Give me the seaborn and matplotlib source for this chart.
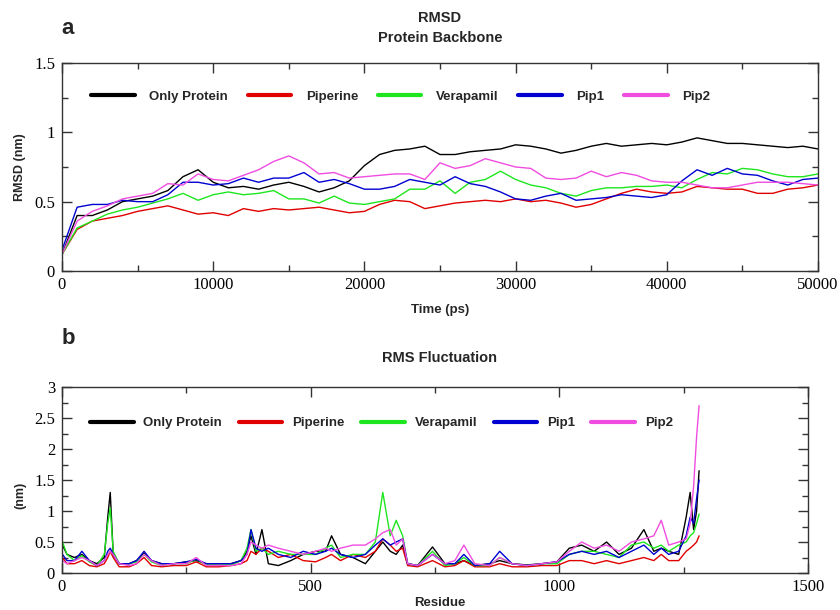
import numpy as np
import pandas as pd
import matplotlib
matplotlib.use("Agg")
import matplotlib.pyplot as plt
from matplotlib.lines import Line2D
from matplotlib.ticker import MultipleLocator
import seaborn as sns

# ---------------- data ----------------
series_names = ["Only Protein", "Piperine", "Verapamil", "Pip1", "Pip2"]
series_colors = ["#000000", "#e00000", "#1ee61e", "#0000d0", "#f04ce0"]

# RMSD (nm) sampled every 1000 ps
time_ps = [i * 1000 for i in range(51)]
rmsd_only_protein = [0.12, 0.40, 0.40, 0.44, 0.50, 0.52, 0.54, 0.58, 0.68, 0.73,
                     0.64, 0.60, 0.61, 0.59, 0.62, 0.64, 0.61, 0.57, 0.60, 0.65,
                     0.76, 0.84, 0.87, 0.88, 0.90, 0.84, 0.84, 0.86, 0.87, 0.88,
                     0.91, 0.90, 0.88, 0.85, 0.87, 0.90, 0.92, 0.90, 0.91, 0.92,
                     0.91, 0.93, 0.96, 0.94, 0.92, 0.92, 0.91, 0.90, 0.89, 0.90, 0.88]
rmsd_piperine = [0.12, 0.30, 0.36, 0.38, 0.40, 0.43, 0.45, 0.47, 0.44, 0.41,
                 0.42, 0.40, 0.45, 0.43, 0.45, 0.44, 0.45, 0.46, 0.44, 0.42,
                 0.43, 0.48, 0.51, 0.50, 0.45, 0.47, 0.49, 0.50, 0.51, 0.50,
                 0.52, 0.50, 0.51, 0.49, 0.46, 0.48, 0.52, 0.56, 0.59, 0.57,
                 0.56, 0.57, 0.61, 0.60, 0.59, 0.59, 0.56, 0.56, 0.59, 0.60, 0.62]
rmsd_verapamil = [0.12, 0.31, 0.36, 0.41, 0.44, 0.46, 0.49, 0.52, 0.56, 0.51,
                  0.55, 0.57, 0.55, 0.56, 0.58, 0.52, 0.52, 0.49, 0.54, 0.49,
                  0.48, 0.50, 0.52, 0.59, 0.59, 0.65, 0.56, 0.64, 0.66, 0.72,
                  0.66, 0.62, 0.60, 0.56, 0.54, 0.58, 0.60, 0.60, 0.61, 0.61,
                  0.62, 0.60, 0.66, 0.71, 0.70, 0.74, 0.73, 0.70, 0.68, 0.68, 0.70]
rmsd_pip1 = [0.15, 0.46, 0.48, 0.48, 0.51, 0.50, 0.50, 0.55, 0.64, 0.64,
             0.62, 0.63, 0.67, 0.64, 0.67, 0.67, 0.71, 0.64, 0.66, 0.63,
             0.59, 0.59, 0.61, 0.66, 0.64, 0.62, 0.68, 0.63, 0.61, 0.57,
             0.52, 0.51, 0.54, 0.56, 0.51, 0.52, 0.53, 0.55, 0.54, 0.53,
             0.55, 0.65, 0.73, 0.69, 0.74, 0.70, 0.69, 0.65, 0.62, 0.66, 0.67]
rmsd_pip2 = [0.12, 0.36, 0.43, 0.47, 0.52, 0.54, 0.56, 0.63, 0.62, 0.70,
             0.66, 0.65, 0.69, 0.73, 0.79, 0.83, 0.78, 0.70, 0.71, 0.67,
             0.68, 0.69, 0.70, 0.70, 0.66, 0.78, 0.74, 0.76, 0.81, 0.78,
             0.75, 0.74, 0.67, 0.66, 0.67, 0.72, 0.68, 0.71, 0.69, 0.65,
             0.64, 0.64, 0.62, 0.60, 0.60, 0.62, 0.64, 0.64, 0.64, 0.63, 0.62]

# RMSF (nm) per residue
residue = [1, 10, 25, 40, 55, 70, 85, 92, 97, 103,
           115, 135, 150, 165, 180, 200, 225, 250, 270, 290,
           315, 340, 360, 372, 380, 390, 402, 415, 435, 460,
           485, 510, 530, 542, 560, 585, 610, 630, 645, 660,
           672, 685, 695, 715, 745, 770, 790, 808, 830, 860,
           880, 905, 935, 965, 995, 1020, 1045, 1070, 1095, 1120,
           1145, 1170, 1190, 1205, 1220, 1240, 1255, 1263, 1270, 1276, 1281]
rmsf_only_protein = [0.45, 0.30, 0.25, 0.30, 0.20, 0.15, 0.25, 0.90, 1.30, 0.30,
                     0.15, 0.15, 0.20, 0.32, 0.20, 0.15, 0.15, 0.18, 0.20, 0.15,
                     0.15, 0.15, 0.20, 0.35, 0.60, 0.30, 0.70, 0.15, 0.12, 0.20,
                     0.30, 0.35, 0.35, 0.60, 0.30, 0.25, 0.15, 0.35, 0.50, 0.35,
                     0.30, 0.45, 0.15, 0.12, 0.42, 0.15, 0.15, 0.20, 0.12, 0.15,
                     0.20, 0.15, 0.13, 0.15, 0.18, 0.40, 0.45, 0.35, 0.50, 0.30,
                     0.40, 0.70, 0.35, 0.40, 0.35, 0.30, 0.90, 1.30, 0.70, 1.00, 1.65]
rmsf_piperine = [0.25, 0.15, 0.15, 0.20, 0.12, 0.10, 0.15, 0.25, 0.35, 0.25,
                 0.10, 0.10, 0.15, 0.25, 0.12, 0.10, 0.12, 0.12, 0.18, 0.10,
                 0.10, 0.12, 0.15, 0.20, 0.35, 0.30, 0.40, 0.35, 0.25, 0.30,
                 0.20, 0.18, 0.25, 0.30, 0.20, 0.30, 0.25, 0.35, 0.55, 0.45,
                 0.35, 0.40, 0.12, 0.10, 0.20, 0.10, 0.12, 0.20, 0.10, 0.10,
                 0.15, 0.10, 0.10, 0.12, 0.12, 0.20, 0.20, 0.15, 0.20, 0.15,
                 0.20, 0.25, 0.20, 0.30, 0.20, 0.20, 0.35, 0.40, 0.45, 0.50, 0.60]
rmsf_verapamil = [0.50, 0.30, 0.20, 0.28, 0.18, 0.12, 0.30, 0.80, 1.05, 0.35,
                  0.15, 0.15, 0.18, 0.30, 0.18, 0.12, 0.15, 0.15, 0.22, 0.13,
                  0.15, 0.13, 0.20, 0.40, 0.70, 0.35, 0.40, 0.30, 0.35, 0.30,
                  0.30, 0.30, 0.40, 0.45, 0.25, 0.30, 0.30, 0.50, 1.30, 0.60,
                  0.85, 0.60, 0.15, 0.12, 0.35, 0.12, 0.15, 0.25, 0.12, 0.12,
                  0.25, 0.15, 0.12, 0.15, 0.15, 0.30, 0.35, 0.35, 0.30, 0.25,
                  0.45, 0.50, 0.40, 0.45, 0.35, 0.45, 0.50, 0.60, 0.65, 0.80, 0.95]
rmsf_pip1 = [0.30, 0.20, 0.20, 0.35, 0.20, 0.12, 0.20, 0.35, 0.40, 0.30,
             0.15, 0.15, 0.20, 0.35, 0.20, 0.15, 0.15, 0.18, 0.22, 0.15,
             0.15, 0.15, 0.20, 0.30, 0.70, 0.40, 0.35, 0.40, 0.30, 0.25,
             0.35, 0.30, 0.35, 0.40, 0.30, 0.25, 0.30, 0.45, 0.55, 0.45,
             0.50, 0.55, 0.15, 0.12, 0.30, 0.15, 0.15, 0.30, 0.12, 0.15,
             0.35, 0.15, 0.12, 0.15, 0.18, 0.30, 0.35, 0.30, 0.35, 0.25,
             0.35, 0.45, 0.30, 0.40, 0.30, 0.35, 0.60, 0.90, 0.80, 1.20, 1.50]
rmsf_pip2 = [0.20, 0.15, 0.20, 0.25, 0.20, 0.12, 0.20, 0.30, 0.35, 0.30,
             0.15, 0.12, 0.15, 0.30, 0.20, 0.12, 0.15, 0.15, 0.25, 0.12,
             0.12, 0.12, 0.15, 0.30, 0.50, 0.45, 0.40, 0.45, 0.40, 0.35,
             0.30, 0.35, 0.40, 0.35, 0.40, 0.45, 0.45, 0.55, 0.65, 0.70,
             0.45, 0.55, 0.15, 0.12, 0.30, 0.15, 0.20, 0.45, 0.15, 0.12,
             0.25, 0.15, 0.12, 0.15, 0.18, 0.35, 0.50, 0.40, 0.45, 0.35,
             0.50, 0.55, 0.60, 0.85, 0.45, 0.50, 0.55, 0.80, 1.40, 2.20, 2.70]

rmsd_values = [rmsd_only_protein, rmsd_piperine, rmsd_verapamil, rmsd_pip1, rmsd_pip2]
rmsf_values = [rmsf_only_protein, rmsf_piperine, rmsf_verapamil, rmsf_pip1, rmsf_pip2]

df_rmsd = pd.concat([pd.DataFrame({"Time": time_ps, "RMSD": v, "System": n})
                     for n, v in zip(series_names, rmsd_values)], ignore_index=True)
df_rmsf = pd.concat([pd.DataFrame({"Residue": residue, "RMSF": v, "System": n})
                     for n, v in zip(series_names, rmsf_values)], ignore_index=True)

# ---------------- style ----------------
sns.set_style("ticks")
bold_font = ["Liberation Sans Narrow", "Liberation Sans", "DejaVu Sans"]
serif_font = ["Liberation Serif", "DejaVu Serif"]
plt.rcParams["font.family"] = bold_font
plt.rcParams["xtick.direction"] = "in"
plt.rcParams["ytick.direction"] = "in"

palette = dict(zip(series_names, series_colors))

fig = plt.figure(figsize=(8.4, 6.1), dpi=100)
W, H = 840, 610


def px_axes(l, t, r, b):
    return fig.add_axes([l / W, 1 - b / H, (r - l) / W, (b - t) / H])


ax1 = px_axes(62, 63, 818, 271)
ax2 = px_axes(62, 387, 808, 573)

sns.lineplot(data=df_rmsd, x="Time", y="RMSD", hue="System", palette=palette,
             hue_order=series_names, estimator=None, linewidth=1.0, ax=ax1, legend=False)
sns.lineplot(data=df_rmsf, x="Residue", y="RMSF", hue="System", palette=palette,
             hue_order=series_names, estimator=None, linewidth=1.0, ax=ax2, legend=False)

for ax in (ax1, ax2):
    for s in ax.spines.values():
        s.set_visible(True)
        s.set_linewidth(1.0)
        s.set_color("#333333")
    ax.tick_params(which="both", direction="in", top=True, right=True,
                   colors="#333333", labelcolor="black")
    ax.tick_params(which="major", length=7, width=1)
    ax.tick_params(which="minor", length=4, width=1)
    ax.set_xlabel("")
    ax.set_ylabel("")

ax1.set_xlim(0, 50000)
ax1.set_ylim(0, 1.5)
ax1.xaxis.set_major_locator(MultipleLocator(10000))
ax1.xaxis.set_minor_locator(MultipleLocator(5000))
ax1.set_yticks([0, 0.5, 1, 1.5])
ax1.set_yticklabels(["0", "0.5", "1", "1.5"])
ax1.yaxis.set_minor_locator(MultipleLocator(0.25))

ax2.set_xlim(0, 1500)
ax2.set_ylim(0, 3)
ax2.xaxis.set_major_locator(MultipleLocator(500))
ax2.xaxis.set_minor_locator(MultipleLocator(250))
ax2.set_yticks([0, 0.5, 1, 1.5, 2, 2.5, 3])
ax2.set_yticklabels(["0", "0.5", "1", "1.5", "2", "2.5", "3"])
ax2.yaxis.set_minor_locator(MultipleLocator(0.25))

for ax in (ax1, ax2):
    for lab in ax.get_xticklabels() + ax.get_yticklabels():
        lab.set_fontfamily(serif_font)
        lab.set_fontsize(12)
    ax.tick_params(axis="x", pad=4)
    ax.tick_params(axis="y", pad=5)

# legends
handles = [Line2D([0], [0], color=c, lw=3) for c in series_colors]
leg1 = ax1.legend(handles, series_names, loc="center left",
                  bbox_to_anchor=((91 - 62) / 756, (271 - 97) / 208), ncol=5,
                  frameon=False, borderpad=0, borderaxespad=0,
                  handlelength=3.3, handletextpad=1.1, columnspacing=1.5,
                  prop={"family": bold_font, "weight": "bold", "size": 9.5})
leg2 = ax2.legend(handles, series_names, loc="center left",
                  bbox_to_anchor=((90 - 62) / 746, (573 - 423) / 186), ncol=5,
                  frameon=False, borderpad=0, borderaxespad=0,
                  handlelength=3.3, handletextpad=0.75, columnspacing=1.25,
                  prop={"family": bold_font, "weight": "bold", "size": 9.5})


def ftext(x, y, s, **kw):
    fig.text(x / W, 1 - y / H, s, ha="center", va="center",
             family=bold_font, weight="bold", **kw)


ftext(68, 28, "a", fontsize=16)
ftext(68, 338, "b", fontsize=16)
ftext(440, 18, "RMSD", fontsize=10.5)
ftext(440, 38, "Protein Backbone", fontsize=10.5)
ftext(440, 358, "RMS Fluctuation", fontsize=10.5)
ftext(440, 310, "Time (ps)", fontsize=9.5)
ftext(440, 603, "Residue", fontsize=9.5)
ftext(20, 167, "RMSD (nm)", fontsize=9, rotation=90)
ftext(20, 495, "(nm)", fontsize=9, rotation=90)

fig.savefig("out.png", dpi=100)
